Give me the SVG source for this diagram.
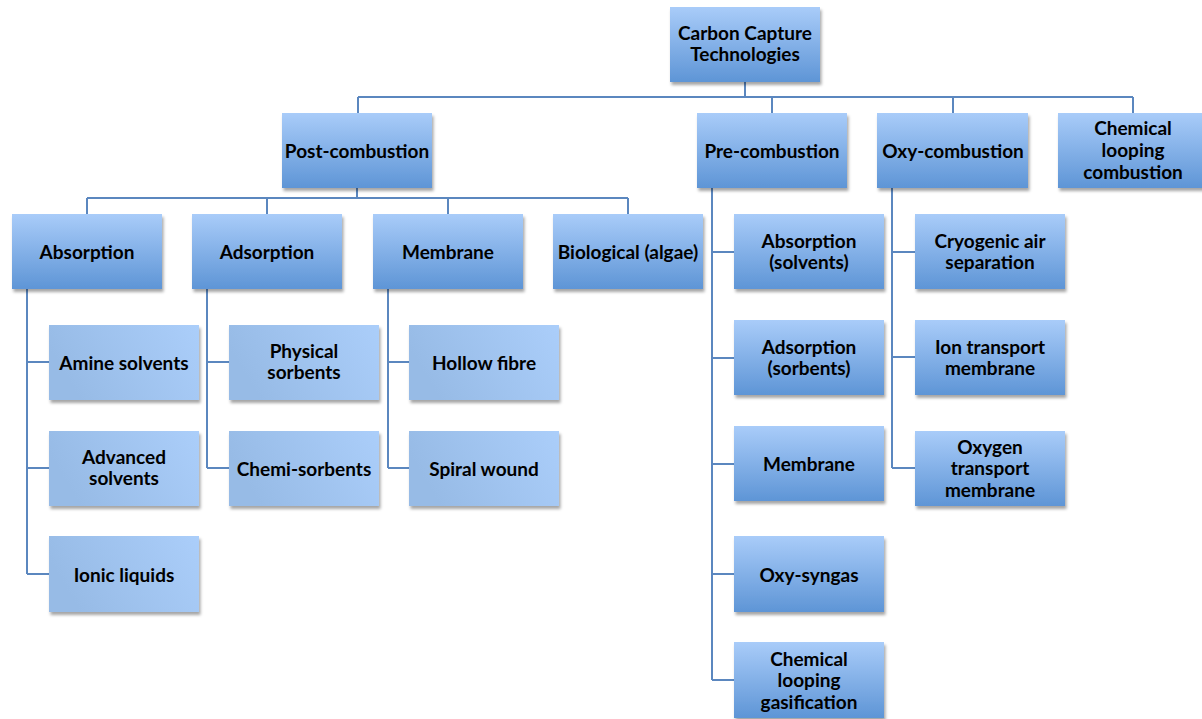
<svg xmlns="http://www.w3.org/2000/svg" width="1202" height="719" viewBox="0 0 1202 719">
<defs>
<linearGradient id="gv" x1="0" y1="0" x2="0" y2="1">
<stop offset="0" stop-color="#a9ccf9"/>
<stop offset="1" stop-color="#5e95d6"/>
</linearGradient>
<linearGradient id="gh" x1="0" y1="0.3" x2="1" y2="0">
<stop offset="0" stop-color="#97bbe6"/>
<stop offset="1" stop-color="#abcefa"/>
</linearGradient>
<filter id="sh" x="-10%" y="-10%" width="125%" height="135%">
<feDropShadow dx="1.5" dy="3" stdDeviation="1.6" flood-color="#000" flood-opacity="0.35"/>
</filter>
</defs>
<style>
.n rect{fill:url(#gv);filter:url(#sh)}
.l rect{fill:url(#gh);filter:url(#sh)}
text{font-family:Lato,"Open Sans","Liberation Sans",sans-serif;font-weight:bold;font-size:19px;fill:#000;text-anchor:middle}
.c path{fill:none;stroke:#5b87bf;stroke-width:2}
</style>
<rect width="1202" height="719" fill="#fff"/>
<g class="c" id="connectors">
<path d="M745 82V97M358 97H1133M358 97V113M772 97V113M953 97V113M1133 97V113"/>
<path d="M357 188V198M87 198H628M87 198V214M267 198V214M448 198V214M628 198V214"/>
<path d="M27 289V574M27 362H49M27 468H49M27 574H49"/>
<path d="M207 289V468M207 362H229M207 468H229"/>
<path d="M388 289V468M388 362H409M388 468H409"/>
<path d="M712 188V680M712 252H734M712 358H734M712 464H734M712 574H734M712 680H734"/>
<path d="M892 188V468M892 252H915M892 357H915M892 468H915"/>
</g>
<g class="n" id="root"><rect x="670" y="7" width="150" height="75"/><text x="745" y="40">Carbon Capture</text><text x="745" y="61">Technologies</text></g>
<g class="n" id="post"><rect x="282" y="113" width="150" height="75"/><text x="357" y="158">Post-combustion</text></g>
<g class="n" id="pre"><rect x="697" y="113" width="150" height="75"/><text x="772" y="158">Pre-combustion</text></g>
<g class="n" id="oxy"><rect x="877" y="113" width="151" height="75"/><text x="953" y="158">Oxy-combustion</text></g>
<g class="n" id="clc"><rect x="1058" y="113" width="150" height="75"/><text x="1133" y="135">Chemical</text><text x="1133" y="157">looping</text><text x="1133" y="179">combustion</text></g>
<g class="n" id="absorption"><rect x="12" y="214" width="150" height="75"/><text x="87" y="259">Absorption</text></g>
<g class="n" id="adsorption"><rect x="192" y="214" width="150" height="75"/><text x="267" y="259">Adsorption</text></g>
<g class="n" id="membrane"><rect x="373" y="214" width="150" height="75"/><text x="448" y="259">Membrane</text></g>
<g class="n" id="bio"><rect x="553" y="214" width="150" height="75"/><text x="628" y="259">Biological (algae)</text></g>
<g class="l" id="amine"><rect x="49" y="325" width="150" height="75"/><text x="124" y="370">Amine solvents</text></g>
<g class="l" id="advanced"><rect x="49" y="431" width="150" height="75"/><text x="124" y="464">Advanced</text><text x="124" y="485">solvents</text></g>
<g class="l" id="ionic"><rect x="49" y="536" width="150" height="76"/><text x="124" y="582">Ionic liquids</text></g>
<g class="l" id="physical"><rect x="229" y="325" width="150" height="75"/><text x="304" y="358">Physical</text><text x="304" y="379">sorbents</text></g>
<g class="l" id="chemi"><rect x="229" y="431" width="150" height="75"/><text x="304" y="476">Chemi-sorbents</text></g>
<g class="l" id="hollow"><rect x="409" y="325" width="150" height="75"/><text x="484" y="370">Hollow fibre</text></g>
<g class="l" id="spiral"><rect x="409" y="431" width="150" height="75"/><text x="484" y="476">Spiral wound</text></g>
<g class="n" id="pre-abs"><rect x="734" y="214" width="150" height="75"/><text x="809" y="248">Absorption</text><text x="809" y="269">(solvents)</text></g>
<g class="n" id="pre-ads"><rect x="734" y="320" width="150" height="75"/><text x="809" y="354">Adsorption</text><text x="809" y="375">(sorbents)</text></g>
<g class="n" id="pre-mem"><rect x="734" y="426" width="150" height="75"/><text x="809" y="471">Membrane</text></g>
<g class="n" id="oxysyngas"><rect x="734" y="536" width="150" height="76"/><text x="809" y="582">Oxy-syngas</text></g>
<g class="n" id="clg"><rect x="734" y="642" width="150" height="76"/><text x="809" y="666">Chemical</text><text x="809" y="687">looping</text><text x="809" y="709">gasification</text></g>
<g class="n" id="cryo"><rect x="915" y="214" width="150" height="75"/><text x="990" y="248">Cryogenic air</text><text x="990" y="269">separation</text></g>
<g class="n" id="itm"><rect x="915" y="320" width="150" height="75"/><text x="990" y="354">Ion transport</text><text x="990" y="375">membrane</text></g>
<g class="n" id="otm"><rect x="915" y="431" width="150" height="75"/><text x="990" y="454">Oxygen</text><text x="990" y="475">transport</text><text x="990" y="497">membrane</text></g>
</svg>
